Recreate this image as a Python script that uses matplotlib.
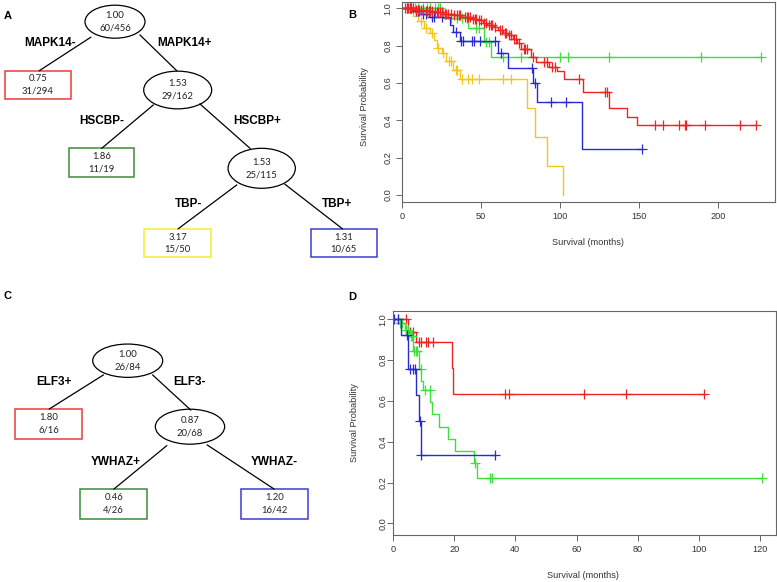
import numpy as np
import matplotlib
matplotlib.use('Agg')
import matplotlib.pyplot as plt
from matplotlib.patches import Ellipse, Rectangle

plt.rcParams['font.family'] = ['Liberation Sans', 'DejaVu Sans']

# ---------------- tree A texts
a_hr = ['1.00', '0.75', '1.53', '1.86', '1.53', '3.17', '1.31']
a_n = ['60/456', '31/294', '29/162', '11/19', '25/115', '15/50', '10/65']
a_split = ['MAPK14-', 'MAPK14+', 'HSCBP-', 'HSCBP+', 'TBP-', 'TBP+']

# ---------------- tree C texts
c_hr = ['1.00', '1.80', '0.87', '0.46', '1.20']
c_n = ['26/84', '6/16', '20/68', '4/26', '16/42']
c_split = ['ELF3+', 'ELF3-', 'YWHAZ+', 'YWHAZ-']

# ---------------- KM panel B (months, survival)
b_red_t = [0, 8, 14, 20, 26, 32, 38, 44, 48, 51, 54, 58, 61, 64, 67, 70, 73, 75.5,
           81.9, 84.9, 93.3, 97.8, 102.7, 114.6, 130.9, 142.5, 148.5]
b_red_s = [1.0, 0.993, 0.986, 0.979, 0.972, 0.962, 0.955, 0.945, 0.935, 0.924, 0.912,
           0.899, 0.885, 0.870, 0.855, 0.838, 0.815, 0.78, 0.737, 0.714, 0.687, 0.664,
           0.62, 0.553, 0.467, 0.42, 0.375]
b_red_cens = [2, 3, 4, 5, 6, 7, 9, 10, 11, 12, 13, 15, 16, 17, 18, 19, 21, 22, 23, 24,
              25, 27, 28, 29, 31, 33, 35, 36, 37, 40, 41, 42, 43, 45, 46, 47, 49, 50,
              52, 53, 55, 56, 57, 59, 62, 63, 65, 66, 68, 69, 71, 72, 74, 77, 78, 79,
              83, 90, 92, 95, 97, 112, 128.3, 129.4, 160, 165, 175, 179, 180, 192, 214, 224]

b_green_t = [0, 26, 42, 52, 56]
b_green_s = [1.0, 0.947, 0.894, 0.82, 0.737]
b_green_cens = [5, 8, 10, 13, 16, 18, 21, 23, 24, 31, 35, 38, 41, 47, 49, 53, 55,
                64, 75.5, 100, 105, 131, 189, 227]

b_yellow_t = [0, 4, 7, 10, 14, 18, 20, 22, 25, 28, 32, 36.5, 79, 84, 92, 101.7]
b_yellow_s = [1.0, 0.98, 0.96, 0.93, 0.896, 0.866, 0.83, 0.79, 0.76, 0.72, 0.67, 0.62,
              0.465, 0.31, 0.155, 0.0]
b_yellow_cens = [12, 15, 19, 23, 26, 30, 31, 34, 35, 38, 42, 44, 49, 64, 69]

b_blue_t = [0, 8, 12, 17, 30.6, 32, 36.5, 60.6, 67, 82.9, 85.4, 114]
b_blue_s = [1.0, 0.985, 0.97, 0.955, 0.91, 0.871, 0.826, 0.76, 0.682, 0.598, 0.5, 0.246]
b_blue_cens = [3, 5, 6, 9, 10, 11, 13, 15, 19, 20, 25, 34, 37.6, 38.7, 44, 45.4, 49.6,
               58.7, 62.6, 82, 84, 94.5, 104, 152]

# ---------------- KM panel D
d_red_t = [0, 5, 7.6, 19.3, 19.7]
d_red_s = [1.0, 0.9375, 0.887, 0.76, 0.632]
d_red_cens = [1.6, 4.1, 5.5, 6.5, 8.4, 9.2, 10.8, 11.4, 13.0, 36.7, 37.8, 62.5, 76.3, 101.6]

d_green_t = [0, 1.6, 3.8, 5.5, 6.5, 8.5, 9.3, 9.8, 12.2, 12.9, 15.0, 18.0, 20.2, 26.5, 27.3]
d_green_s = [1.0, 0.98, 0.95, 0.92, 0.846, 0.757, 0.70, 0.654, 0.593, 0.534, 0.474,
             0.413, 0.355, 0.297, 0.22]
d_green_cens = [2.2, 3.1, 4.4, 4.9, 6.0, 6.3, 6.9, 7.4, 8.0, 9.1, 10.4, 12.0, 26.7,
                31.6, 32.2, 120.5]

d_blue_t = [0, 2.5, 5.0, 7.5, 8.4, 9.0]
d_blue_s = [1.0, 0.923, 0.757, 0.63, 0.5, 0.335]
d_blue_cens = [0.3, 1.5, 4.7, 5.6, 6.6, 7.3, 8.7, 9.0, 33.3]

RED = '#ee2424'
GREEN = '#3ee03e'
BLUE = '#2a2ad2'
YELLOW = '#f2c61e'

fig = plt.figure(figsize=(7.77, 5.82), dpi=100)

# full-figure axes in pixel units for the trees
ax0 = fig.add_axes([0, 0, 1, 1])
ax0.set_xlim(0, 777)
ax0.set_ylim(582, 0)
ax0.axis('off')

num_font = ['Lato', 'DejaVu Sans']


def node(kind, cx, cy, w, h, hr, n, color='black'):
    if kind == 'e':
        ax0.add_patch(Ellipse((cx, cy), w, h, fill=False, ec='black', lw=0.9))
    else:
        ax0.add_patch(Rectangle((cx - w / 2, cy - h / 2), w, h, fill=False, ec=color, lw=1.1))
    ax0.text(cx, cy - 6, hr, ha='center', va='center', fontsize=6.8, family=num_font, color='#222')
    ax0.text(cx, cy + 6.3, n, ha='center', va='center', fontsize=6.8, family=num_font, color='#222')


def edge(x1, y1, x2, y2):
    ax0.plot([x1, x2], [y1, y2], color='black', lw=0.9)


def split(x, y, s):
    ax0.text(x, y, s, ha='center', va='center', fontsize=8.5, fontweight='bold')


# tree A
a_nodes = [('e', 115, 21.7, 60, 33, 'black'),
           ('b', 38, 84.8, 66, 28.3, '#ec3a3a'),
           ('e', 177.7, 90, 68, 37.7, 'black'),
           ('b', 101.7, 162.5, 65.3, 28.4, '#3b8c3b'),
           ('e', 261.7, 168.3, 67.3, 40, 'black'),
           ('b', 177.7, 243, 66.7, 28.6, '#f2ee30'),
           ('b', 343.7, 243, 66, 28.6, '#3b3bd6')]
a_edges = [(90.7, 37.3, 39.3, 70.7), (140, 35, 176.7, 70.7), (153.3, 105, 101.7, 148.3),
           (200, 104, 250, 148.3), (236.7, 185, 178.3, 228.7), (285, 184.3, 342.3, 228.7)]
a_lab = [(50, 43), (185, 43), (101.7, 120.7), (257, 120.7), (189, 204), (337.3, 204)]

for e in a_edges:
    edge(*e)
for (k, cx, cy, w, h, col), hr, n in zip(a_nodes, a_hr, a_n):
    node(k, cx, cy, w, h, hr, n, col)
for (x, y), s in zip(a_lab, a_split):
    split(x, y, s)

# tree C
c_nodes = [('e', 127.7, 360.7, 70, 33.3, 'black'),
           ('b', 48.7, 424, 67.3, 30, '#ec3a3a'),
           ('e', 190, 426.7, 69.3, 35, 'black'),
           ('b', 113.7, 504, 67.3, 30, '#3b8c3b'),
           ('b', 274.7, 504, 67.3, 30, '#3b3bd6')]
c_edges = [(103.3, 375, 49.3, 409), (152.7, 375, 190.7, 410),
           (166.7, 445.7, 114, 489), (207.3, 445, 274, 489)]
c_lab = [(54, 381.7), (189, 381.7), (115.7, 461.7), (274, 461.7)]

for e in c_edges:
    edge(*e)
for (k, cx, cy, w, h, col), hr, n in zip(c_nodes, c_hr, c_n):
    node(k, cx, cy, w, h, hr, n, col)
for (x, y), s in zip(c_lab, c_split):
    split(x, y, s)

# panel letters
for s, x, y in [('A', 8, 16), ('B', 352, 15), ('C', 8, 296), ('D', 352, 297)]:
    ax0.text(x, y, s, ha='center', va='center', fontsize=8, fontweight='bold')


def km(ax, t, s, cens, color):
    t = np.asarray(t, float)
    s = np.asarray(s, float)
    cens = np.asarray(cens, float)
    end = max(t[-1], cens.max())
    ax.step(np.append(t, end), np.append(s, s[-1]), where='post', color=color, lw=1.0)
    idx = np.searchsorted(t, cens, side='right') - 1
    ax.plot(cens, s[idx], '+', color=color, ms=6.5, mew=0.9, ls='none')


def style(ax, xticks, ypad):
    for sp in ax.spines.values():
        sp.set_color('#666666')
        sp.set_linewidth(0.8)
    ax.set_xticks(xticks)
    ax.set_yticks([0.0, 0.2, 0.4, 0.6, 0.8, 1.0])
    ax.set_yticklabels(['0.0', '0.2', '0.4', '0.6', '0.8', '1.0'])
    ax.tick_params(direction='out', length=4, width=0.7, color='#666666',
                   labelsize=6.6, labelcolor='#333333', pad=3)
    ax.tick_params(axis='y', labelrotation=90, pad=ypad)
    for lab in ax.get_yticklabels():
        lab.set_va('center')


# panel B
axB = fig.add_axes([402 / 777, 1 - 202 / 582, 373 / 777, 200 / 582])
km(axB, b_yellow_t, b_yellow_s, b_yellow_cens, YELLOW)
km(axB, b_green_t, b_green_s, b_green_cens, GREEN)
km(axB, b_blue_t, b_blue_s, b_blue_cens, BLUE)
km(axB, b_red_t, b_red_s, b_red_cens, RED)
axB.set_xlim(0, 236)
axB.set_ylim(-0.037, 1.034)
style(axB, [0, 50, 100, 150, 200], 3)
axB.set_xlabel('Survival (months)', fontsize=6.6, color='#333333')
axB.set_ylabel('Survival Probability', fontsize=6.6, color='#333333')
axB.xaxis.set_label_coords(0.499, -0.18)
axB.yaxis.set_label_coords(-0.088, 0.475)

# panel D
axD = fig.add_axes([393 / 777, 1 - 535 / 582, 383 / 777, 224 / 582])
km(axD, d_red_t, d_red_s, d_red_cens, RED)
km(axD, d_green_t, d_green_s, d_green_cens, GREEN)
km(axD, d_blue_t, d_blue_s, d_blue_cens, BLUE)
axD.set_xlim(0, 125.2)
axD.set_ylim(-0.057, 1.041)
style(axD, [0, 20, 40, 60, 80, 100, 120], 0)
axD.set_xlabel('Survival (months)', fontsize=6.6, color='#333333')
axD.set_ylabel('Survival Probability', fontsize=6.6, color='#333333')
axD.xaxis.set_label_coords(0.496, -0.16)
axD.yaxis.set_label_coords(-0.089, 0.504)

fig.savefig('out.png', dpi=100)
